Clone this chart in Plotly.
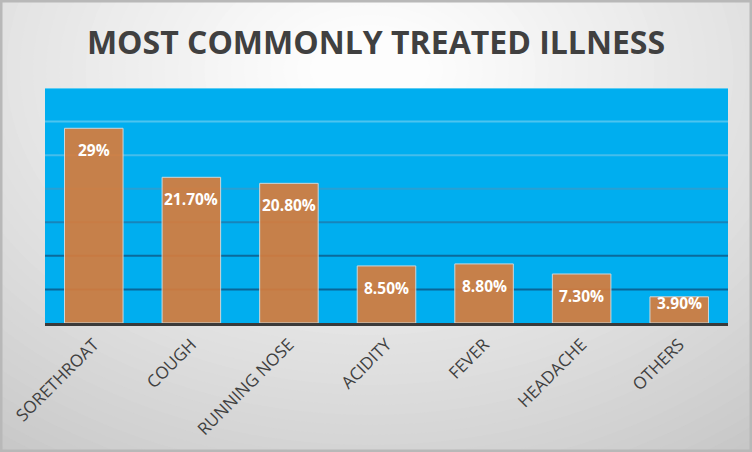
import plotly.graph_objects as go

categories = ["SORETHROAT", "COUGH", "RUNNING NOSE", "ACIDITY", "FEVER", "HEADACHE", "OTHERS"]
values = [29.0, 21.7, 20.8, 8.5, 8.8, 7.3, 3.9]
labels = ["29%", "21.70%", "20.80%", "8.50%", "8.80%", "7.30%", "3.90%"]
grid_values = [5, 10, 15, 20, 25, 30, 35]

W, H = 752, 452
ML, MR, MT, MB = 45, 24, 88, 129
PW, PH = W - ML - MR, H - MT - MB


def px_x(px):
    return (px - ML) / PW


def px_y(py):
    return (H - MB - py) / PH


fig = go.Figure()

fig.add_trace(go.Bar(
    x=categories, y=values,
    marker=dict(color="#DA7C3A", line=dict(color="#dcdcdc", width=1)),
    opacity=0.91,
    hoverinfo="skip",
))

shapes = []
# full-figure base
shapes.append(dict(type="rect", xref="paper", yref="paper",
                   x0=px_x(0), x1=px_x(W), y0=px_y(H), y1=px_y(0),
                   fillcolor="rgb(192,192,192)", line=dict(width=0), layer="below"))
# background radial gradient (decoration)
n = 48
c_out, c_in = 192, 253
cx, cy = 370, 70
for i in range(n):
    t = i / (n - 1)
    rx = 620 * (1 - t) + 60
    ry = 470 * (1 - t) + 35
    g = int(round(c_out + (c_in - c_out) * (t ** 0.8)))
    col = f"rgb({g},{g},{g})"
    shapes.append(dict(type="circle", xref="paper", yref="paper",
                       x0=px_x(cx - rx), x1=px_x(cx + rx), y0=px_y(cy + ry), y1=px_y(cy - ry),
                       fillcolor=col, line=dict(width=0), layer="below"))
# frame
shapes.append(dict(type="rect", xref="paper", yref="paper",
                   x0=px_x(1), x1=px_x(W - 1), y0=px_y(H - 1), y1=px_y(1),
                   line=dict(color="#b8b8b8", width=3), layer="below"))
# blue plot area
shapes.append(dict(type="rect", xref="x domain", yref="y domain", x0=0, x1=1, y0=0, y1=1,
                   fillcolor="#00AEEF", line=dict(width=0), layer="below"))

# gridlines
grid_colors = {5: "#0a6597", 10: "#0b6a9b", 15: "#1784ba", 20: "#2a9fd2",
               25: "#45bdeb", 30: "#4cc4f0", 35: "#5ccbf2"}
for gv in grid_values:
    shapes.append(dict(type="line", xref="x domain", yref="y", x0=0, x1=1, y0=gv, y1=gv,
                       line=dict(color=grid_colors[gv], width=2), layer="below"))

annotations = []
for c, v, lab in zip(categories, values, labels):
    annotations.append(dict(x=c, y=v, xref="x", yref="y", text=lab, showarrow=False,
                            yanchor="middle", yshift=-22 if v > 6 else -6,
                            font=dict(family="Open Sans", size=15.5, color="white", weight="bold")))

fig.update_layout(
    width=W, height=H,
    margin=dict(l=ML, r=MR, t=MT, b=MB, autoexpand=False),
    paper_bgcolor="#c4c4c4",
    plot_bgcolor="rgba(0,0,0,0)",
    bargap=0.4,
    showlegend=False,
    title=dict(text="MOST COMMONLY TREATED ILLNESS", x=0.5, xanchor="center",
               y=1 - 43 / H, yanchor="middle", yref="container",
               font=dict(family="Open Sans", size=32, color="#404040", weight="bold")),
    shapes=shapes,
    annotations=annotations,
)
fig.update_xaxes(showline=True, linecolor="#3a3a3a", linewidth=3, tickangle=-45,
                 tickfont=dict(family="Open Sans", size=17, color="#404040"),
                 ticks="", showgrid=False, fixedrange=True, automargin=False,
                 ticklabelstandoff=2)
fig.update_yaxes(range=[0, 35], showticklabels=False, showgrid=False, zeroline=False,
                 ticks="", fixedrange=True, automargin=False)

fig.write_html("out.html", config={"displayModeBar": False},
               post_script="document.body.style.margin='0';document.body.style.padding='0';"
                           "document.body.style.overflow='hidden';")
